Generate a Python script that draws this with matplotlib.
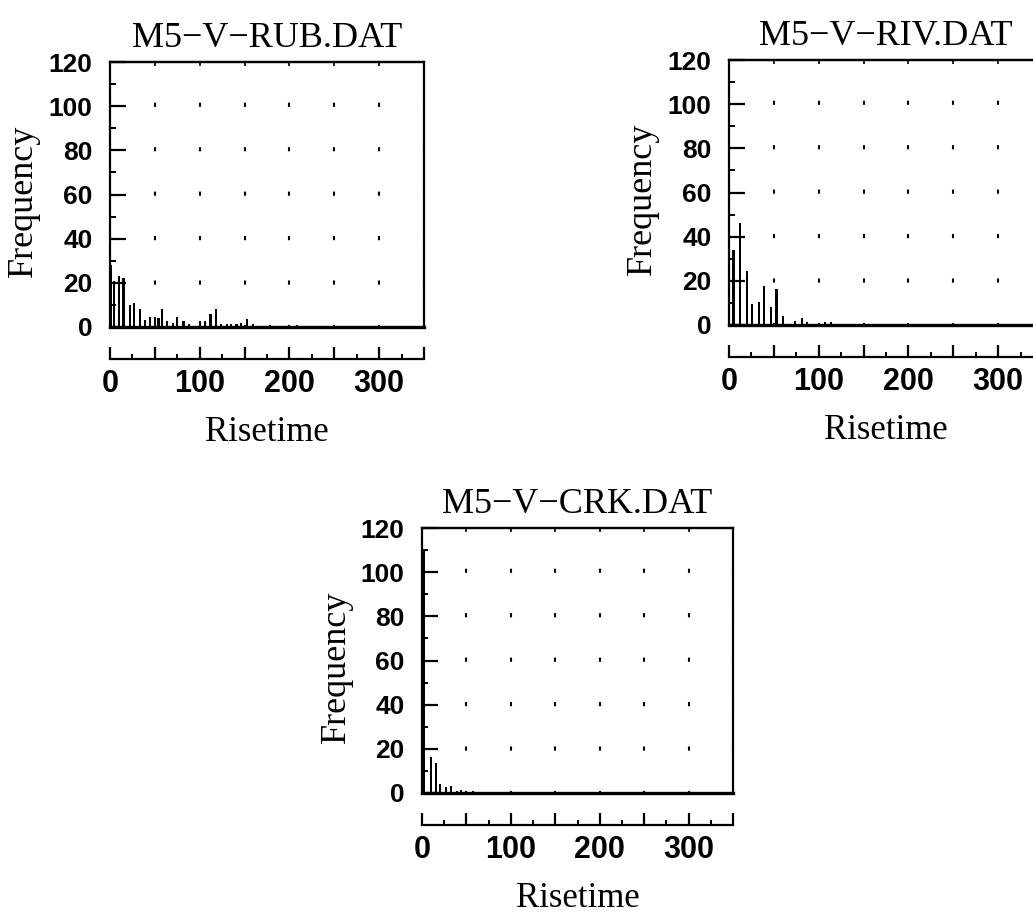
import matplotlib
matplotlib.use('Agg')
import matplotlib.pyplot as plt
from matplotlib.ticker import MultipleLocator, FuncFormatter, NullFormatter

# histogram values (bin centre, count)
rub_rise = [1, 4, 10, 15, 22, 27, 33, 39, 45, 50, 54, 58, 64, 70, 75, 82, 88,
            100, 106, 112, 118, 124, 130, 135, 141, 146, 153, 159, 178, 208]
rub_freq = [28, 21, 23, 22, 10, 11, 8, 3, 4.5, 4.5, 4, 8, 2.5, 2, 4.5, 2.5, 1.5,
            2.5, 2.5, 6, 8, 1.5, 1.5, 1.5, 1.5, 2, 3.5, 1.5, 1, 1]

riv_rise = [5, 12, 20, 26, 33, 39, 47, 53, 60, 67, 74, 81, 87, 94, 107, 114]
riv_freq = [34, 46, 24.5, 9.5, 10.5, 17.5, 8, 16.5, 4, 0.5, 2, 3, 1.5, 0.5, 1.5, 1.5]

crk_rise = [2, 10, 16, 20, 27, 33, 39, 44, 50, 57, 63]
crk_freq = [110, 16.5, 13.5, 4, 2.5, 3, 1, 1.5, 0.5, 1, 0.5]

titles = ['M5\u2212V\u2212RUB.DAT', 'M5\u2212V\u2212RIV.DAT', 'M5\u2212V\u2212CRK.DAT']

SERIF = ['Liberation Serif', 'DejaVu Serif']
SANS = ['Liberation Sans', 'DejaVu Sans']

plt.rcParams['font.weight'] = 'bold'
plt.rcParams['lines.scale_dashes'] = False

W, H = 1033, 915
fig = plt.figure(figsize=(W / 100, H / 100), dpi=100)


def rect(left, top, w, h):
    return [left / W, 1 - (top + h) / H, w / W, h / H]


def panel(r, rise, freq, title):
    ax = fig.add_axes(r)
    ax.bar(rise, freq, width=2.4, color='black', linewidth=0, zorder=3)
    ax.axhline(0, color='black', lw=2.4, clip_on=False, zorder=4)
    ax.set_xlim(0, 350)
    ax.set_ylim(0, 120)

    for s in ['left', 'top', 'right', 'bottom']:
        ax.spines[s].set_linewidth(1.6)
    ax.spines['bottom'].set_position(('outward', 23))

    ax.xaxis.set_major_locator(MultipleLocator(50))
    ax.xaxis.set_minor_locator(MultipleLocator(25))
    ax.xaxis.set_major_formatter(
        FuncFormatter(lambda v, p: f'{v:.0f}' if v % 100 == 0 and v < 350 else ''))
    ax.yaxis.set_major_locator(MultipleLocator(20))
    ax.yaxis.set_minor_locator(MultipleLocator(10))

    ax.tick_params(which='both', direction='in', colors='black')
    ax.tick_params(axis='y', which='major', length=11.5, width=1.6, pad=12.5,
                   labelsize=19, labelfontfamily=SANS)
    ax.tick_params(axis='y', which='minor', length=4.3, width=1.4)
    ax.tick_params(axis='x', which='major', length=8.6, width=1.6, pad=7,
                   labelsize=22, labelfontfamily=SANS)
    ax.tick_params(axis='x', which='minor', length=3.6, width=1.4)

    top = ax.secondary_xaxis('top')
    top.set_xticks(range(50, 301, 50))
    top.xaxis.set_major_formatter(NullFormatter())
    top.tick_params(direction='in', length=3, width=1.2)
    top.spines['top'].set_linewidth(1.6)

    # sparse dotted grid, as in the scan
    ax.grid(axis='x', which='major', color='black', lw=1.5, linestyle=(1.5, (3, 29)))

    ax.set_title(title, family=SERIF, fontsize=26, fontweight='normal', y=1.0, pad=11)
    ax.set_ylabel('Frequency', family=SERIF, fontsize=26, fontweight='normal', va='center')
    ax.yaxis.set_label_coords(-0.274, 0.475)
    ax.set_xlabel('Risetime', family=SERIF, fontsize=25, fontweight='normal', va='top')
    ax.xaxis.set_label_coords(0.5, -0.335)
    return ax


panel(rect(110, 62, 314, 265), rub_rise, rub_freq, titles[0])
panel(rect(729, 60, 314, 265), riv_rise, riv_freq, titles[1])
panel(rect(422, 528, 311, 265), crk_rise, crk_freq, titles[2])

fig.savefig('out.png', dpi=100, facecolor='white')
